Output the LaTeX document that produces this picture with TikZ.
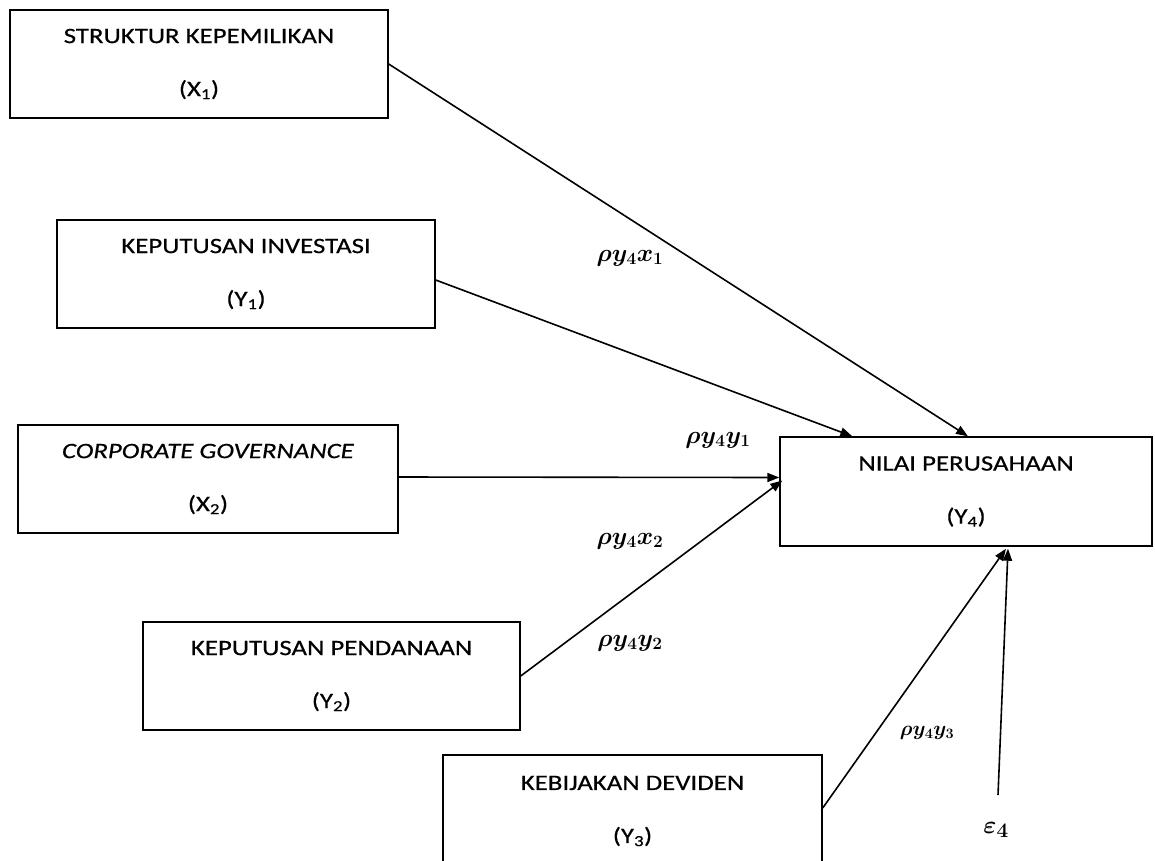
\documentclass[tikz,border=0pt]{standalone}
\usepackage{fontspec}
\setmainfont{Carlito}
\newfontfamily\boxfont[FakeStretch=1.22,FakeBold=0.5]{Carlito}
\usetikzlibrary{arrows.meta,calc}
\begin{document}
\begin{tikzpicture}[x=1pt,y=-1pt,
  varbox/.style={draw, line width=1.4pt, rectangle, inner sep=0pt, align=center,
    font=\boxfont\fontsize{22}{53}\selectfont},
  path/.style={line width=1.6pt, -{Triangle[length=12pt,width=9pt]}},
  coef/.style={font=\boldmath\fontsize{25}{28}\selectfont, inner sep=1pt}]
\useasboundingbox (0,0) rectangle (1155,860);
\clip (0,0) rectangle (1155,860);
\fill[white] (0,0) rectangle (1155,860);

% variable boxes
\node[varbox, minimum width=378pt, minimum height=108pt] (X1) at (199,64)
  {STRUKTUR KEPEMILIKAN\\(X\textsubscript{1})};
\node[varbox, minimum width=378pt, minimum height=108pt] (Y1) at (246,274)
  {KEPUTUSAN INVESTASI\\(Y\textsubscript{1})};
\node[varbox, minimum width=380pt, minimum height=108pt] (X2) at (208,479)
  {\textit{CORPORATE GOVERNANCE}\\(X\textsubscript{2})};
\node[varbox, minimum width=377pt, minimum height=108pt] (Y2) at (331.5,676)
  {KEPUTUSAN PENDANAAN\\(Y\textsubscript{2})};
\node[varbox, minimum width=379pt, minimum height=112pt] (Y3) at (632.5,811)
  {KEBIJAKAN DEVIDEN\\(Y\textsubscript{3})};
\node[varbox, minimum width=372pt, minimum height=109pt] (Y4) at (966,491.5)
  {NILAI PERUSAHAAN\\(Y\textsubscript{4})};

% error term
\node[coef, font=\boldmath\fontsize{28}{30}\selectfont] (eps) at (996,830) {$\varepsilon_4$};
\coordinate (e4) at (998,795);

% paths
\draw[path] (X1.east) -- ($(Y4.north)+(2,0)$);
\draw[path] ($(Y1.east)+(0,6)$) -- ($(Y4.north west)+(73,0)$);
\draw[path] ($(X2.east)+(0,-2)$) -- ($(Y4.west)+(0,-14)$);
\draw[path] (Y2.east) -- ($(Y4.west)+(3,-11)$);
\draw[path] ($(Y3.east)+(0,-3)$) -- ($(Y4.south)+(40,2)$);
\draw[path] (e4) -- ($(Y4.south)+(42,2)$);

% path coefficients
\node[coef] (c1) at (630,258) {$\rho y_4 x_1$};
\node[coef] (c2) at (718,440) {$\rho y_4 y_1$};
\node[coef] (c3) at (630,541) {$\rho y_4 x_2$};
\node[coef] (c4) at (630,643) {$\rho y_4 y_2$};
\node[coef, font=\boldmath\fontsize{21}{24}\selectfont] (c5) at (927,733) {$\rho y_4 y_3$};
\end{tikzpicture}
\end{document}
